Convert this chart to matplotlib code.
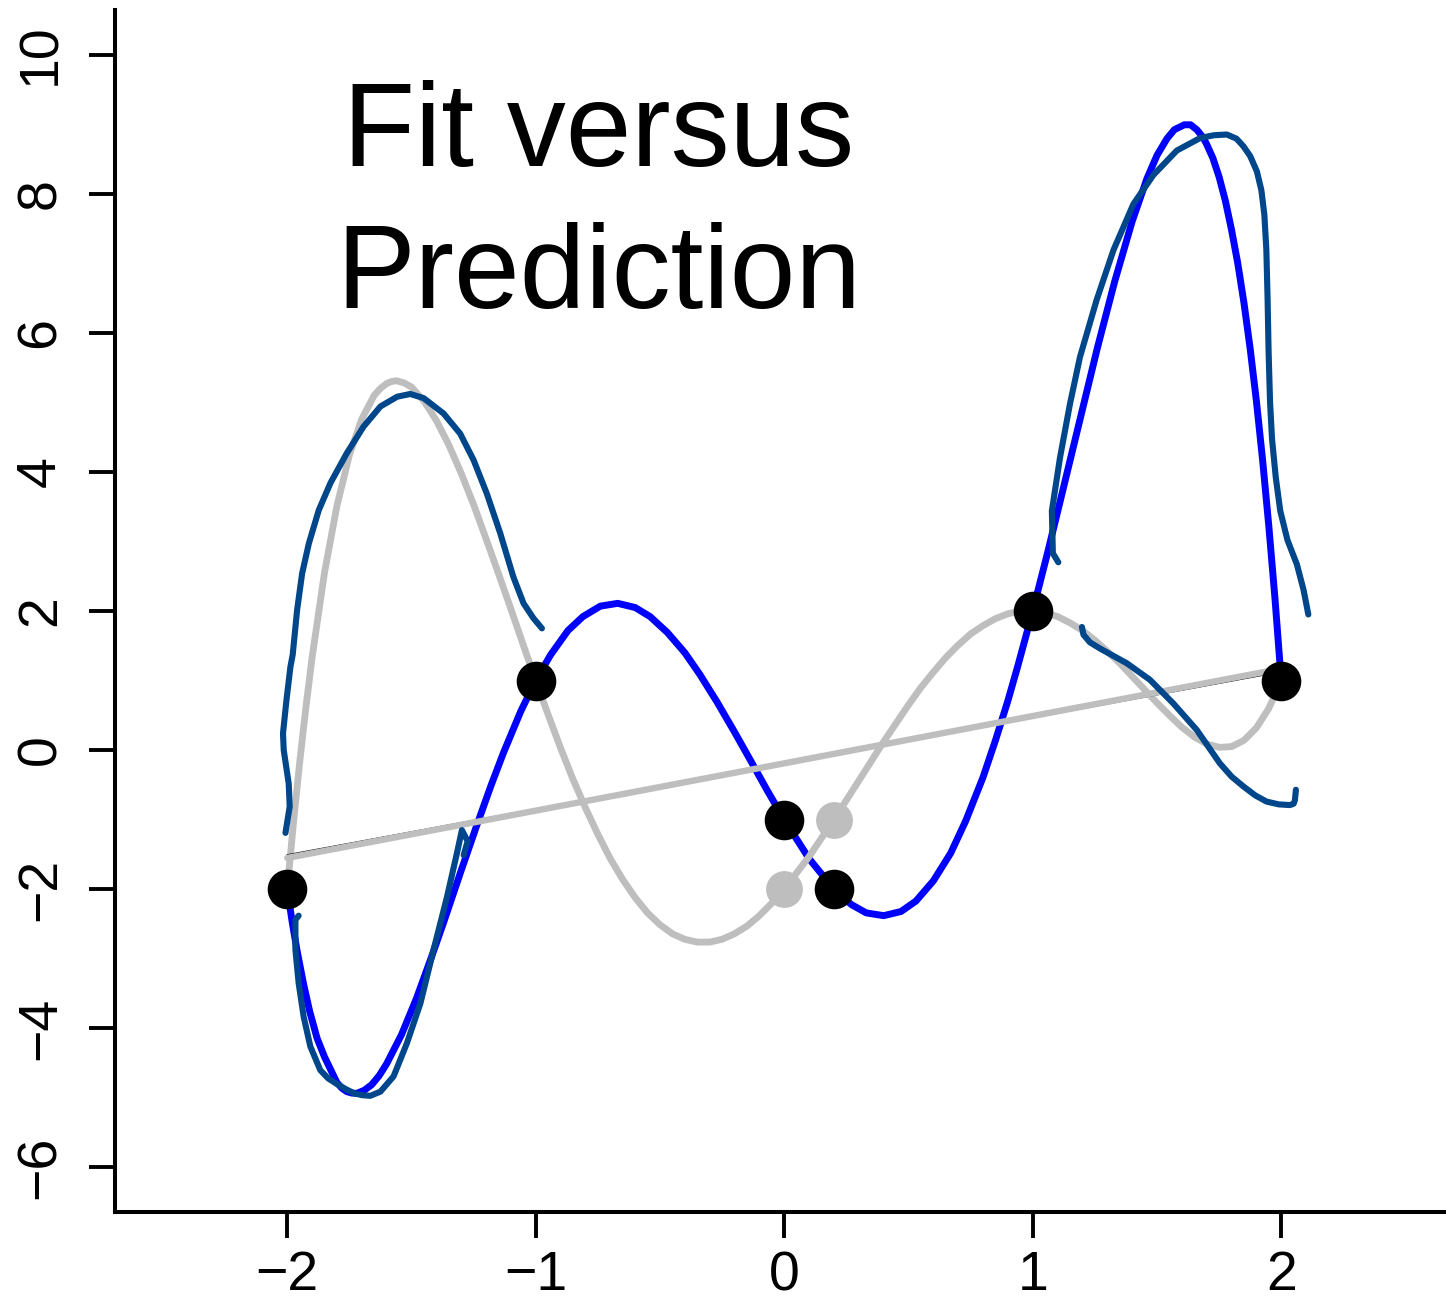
import matplotlib
matplotlib.use('Agg')
import matplotlib.pyplot as plt

plt.rcParams['font.family'] = ['Liberation Sans', 'DejaVu Sans']

# ---------------- data ----------------
obs_x = [-2, -1, 0, 0.2, 1, 2]
obs_y = [-2, 1, -1, -2, 2, 1]
new_x = [0, 0.2]
new_y = [-2, -1]

fit_x = [-2.00, -1.98, -1.96, -1.935, -1.91, -1.88, -1.85, -1.80, -1.78, -1.76,
         -1.74, -1.72, -1.69, -1.66, -1.63, -1.60, -1.54, -1.48, -1.42, -1.37,
         -1.30, -1.24, -1.18, -1.13, -1.06, -1.00, -0.94, -0.87, -0.81, -0.74,
         -0.67, -0.60, -0.54, -0.47, -0.40, -0.34, -0.27, -0.20, -0.14, -0.07,
         0.00, 0.10, 0.20, 0.27, 0.33, 0.40, 0.47, 0.53, 0.60, 0.67,
         0.73, 0.80, 0.85, 0.90, 0.94, 1.00, 1.06, 1.12, 1.19, 1.26,
         1.33, 1.40, 1.46, 1.50, 1.54, 1.57, 1.61, 1.635, 1.66, 1.685,
         1.70, 1.725, 1.75, 1.775, 1.80, 1.825, 1.85, 1.875, 1.90, 1.925,
         1.95, 1.975, 2.00]
fit_y = [-2.00, -2.47, -2.89, -3.35, -3.75, -4.14, -4.41, -4.78, -4.86, -4.91,
         -4.93, -4.935, -4.89, -4.81, -4.68, -4.51, -4.09, -3.57, -2.98, -2.47,
         -1.73, -1.11, -0.51, -0.04, 0.56, 1.00, 1.37, 1.72, 1.92, 2.07,
         2.11, 2.05, 1.92, 1.69, 1.40, 1.09, 0.69, 0.26, -0.12, -0.57,
         -1.00, -1.56, -2.00, -2.22, -2.34, -2.38, -2.32, -2.17, -1.88, -1.48,
         -1.02, -0.39, 0.14, 0.71, 1.21, 2.00, 2.84, 3.72, 4.75, 5.78,
         6.74, 7.60, 8.22, 8.55, 8.79, 8.92, 8.99, 8.99, 8.92, 8.81,
         8.71, 8.51, 8.24, 7.90, 7.48, 7.00, 6.43, 5.77, 5.02, 4.17,
         3.22, 2.17, 1.00]

pred_x = [-2.00, -1.975, -1.95, -1.925, -1.90, -1.85, -1.80, -1.75, -1.70, -1.65,
          -1.625, -1.60, -1.58, -1.56, -1.53, -1.50, -1.45, -1.40, -1.35, -1.30,
          -1.25, -1.20, -1.15, -1.10, -1.05, -1.00, -0.95, -0.90, -0.85, -0.80,
          -0.75, -0.70, -0.65, -0.60, -0.55, -0.50, -0.45, -0.40, -0.35, -0.30,
          -0.25, -0.20, -0.15, -0.10, -0.05, 0.00, 0.10, 0.20, 0.30, 0.40,
          0.50, 0.55, 0.60, 0.65, 0.70, 0.75, 0.80, 0.85, 0.90, 0.95,
          1.00, 1.05, 1.10, 1.15, 1.20, 1.25, 1.30, 1.35, 1.40, 1.45,
          1.50, 1.55, 1.60, 1.65, 1.70, 1.75, 1.80, 1.85, 1.90, 1.95,
          2.00]
pred_y = [-2.00, -1.05, -0.18, 0.61, 1.33, 2.55, 3.51, 4.24, 4.76, 5.10,
          5.20, 5.27, 5.30, 5.31, 5.28, 5.22, 5.02, 4.74, 4.39, 3.98,
          3.53, 3.04, 2.54, 2.03, 1.51, 1.00, 0.51, 0.03, -0.42, -0.83,
          -1.21, -1.56, -1.86, -2.12, -2.34, -2.51, -2.64, -2.72, -2.76, -2.76,
          -2.72, -2.64, -2.53, -2.38, -2.20, -2.00, -1.53, -1.00, -0.44, 0.12,
          0.65, 0.90, 1.12, 1.33, 1.51, 1.67, 1.79, 1.89, 1.96, 2.00,
          2.00, 1.97, 1.92, 1.83, 1.72, 1.58, 1.42, 1.25, 1.06, 0.87,
          0.68, 0.50, 0.33, 0.19, 0.09, 0.04, 0.05, 0.14, 0.32, 0.60,
          1.00]

navy1_x = [-2.007, -1.990, -1.994, -2.014, -2.017, -2.003, -1.987, -1.978, -1.960,
           -1.940, -1.913, -1.873, -1.826, -1.760, -1.693, -1.625, -1.558, -1.505,
           -1.451, -1.371, -1.304, -1.250, -1.197, -1.143, -1.090, -1.049, -1.010,
           -0.975]
navy1_y = [-1.19, -0.81, -0.48, 0.00, 0.24, 0.72, 1.20, 1.37, 2.02,
           2.54, 2.97, 3.45, 3.84, 4.27, 4.65, 4.94, 5.08, 5.12,
           5.06, 4.84, 4.55, 4.17, 3.69, 3.12, 2.49, 2.11, 1.90,
           1.75]

navy2_x = [-1.954, -1.967, -1.967, -1.954, -1.934, -1.907, -1.867, -1.835, -1.800,
           -1.766, -1.733, -1.700, -1.666, -1.625, -1.572, -1.518, -1.464, -1.411,
           -1.357, -1.317, -1.297, -1.274, -1.290]
navy2_y = [-2.38, -2.44, -2.87, -3.35, -3.83, -4.26, -4.60, -4.72, -4.80,
           -4.87, -4.93, -4.96, -4.97, -4.91, -4.69, -4.21, -3.64, -2.87,
           -2.11, -1.48, -1.15, -1.31, -1.51]

navy3_x = [1.103, 1.081, 1.077, 1.110, 1.150, 1.190, 1.257, 1.325, 1.405, 1.486,
           1.580, 1.674, 1.730, 1.781, 1.820, 1.848, 1.875, 1.902, 1.920, 1.932,
           1.940, 1.945, 1.949, 1.955, 1.963, 1.978, 1.996, 2.025, 2.063, 2.090,
           2.109]
navy3_y = [2.70, 2.83, 3.44, 4.21, 4.98, 5.65, 6.47, 7.19, 7.85, 8.27,
           8.62, 8.80, 8.84, 8.85, 8.79, 8.68, 8.54, 8.32, 8.05, 7.70,
           7.20, 6.50, 5.75, 5.00, 4.47, 3.92, 3.44, 3.02, 2.67, 2.30,
           1.95]

navy4_x = [1.198, 1.204, 1.230, 1.271, 1.378, 1.472, 1.566, 1.660, 1.753, 1.800,
           1.847, 1.895, 1.941, 1.990, 2.035, 2.050, 2.055, 2.059]
navy4_y = [1.77, 1.66, 1.55, 1.46, 1.25, 1.01, 0.67, 0.29, -0.19, -0.38,
           -0.52, -0.65, -0.74, -0.78, -0.79, -0.77, -0.72, -0.57]

line_x = [-2, 2]
fit_line_y = [-1.51, 1.13]
pred_line_y = [-1.55, 1.17]

xticks = [-2, -1, 0, 1, 2]
yticks = [-6, -4, -2, 0, 2, 4, 6, 8, 10]
title_text = "Fit versus\nPrediction"

# ---------------- figure ----------------
W, H = 1446, 1304
fig = plt.figure(figsize=(W / 100, H / 100), dpi=100)
ax = fig.add_axes([115 / W, 92 / H, 1331 / W, 1202 / H])
ax.set_xlim(-2.693, 2.663)
ax.set_ylim(-6.64, 10.64)

BLUE = '#0000FF'
GRAY = '#BEBEBE'
NAVY = '#00468B'
rnd = dict(solid_capstyle='round', solid_joinstyle='round')

ax.plot(fit_x, fit_y, color=BLUE, lw=5.0, zorder=2, **rnd)
ax.plot(pred_x, pred_y, color=GRAY, lw=4.9, zorder=3, **rnd)
ax.plot(line_x, fit_line_y, color='black', lw=1.4, zorder=4, **rnd)
ax.plot(line_x, pred_line_y, color=GRAY, lw=4.6, zorder=5, **rnd)
for sx, sy in [(navy1_x, navy1_y), (navy2_x, navy2_y), (navy3_x, navy3_y), (navy4_x, navy4_y)]:
    ax.plot(sx, sy, color=NAVY, lw=4.4, zorder=6, **rnd)
ax.plot(new_x, new_y, 'o', color=GRAY, ms=26.5, mew=0, zorder=7)
ax.plot(obs_x, obs_y, 'o', mfc='black', mec='black', ms=27, mew=1.5, zorder=8)

ax.text(-0.748, 6.36, title_text, ha='center', va='baseline', fontsize=85,
        linespacing=1.36, zorder=9)

for s in ['top', 'right']:
    ax.spines[s].set_visible(False)
for s in ['left', 'bottom']:
    ax.spines[s].set_linewidth(2.9)

ax.set_xticks(xticks)
ax.set_yticks(yticks)
ax.set_xticklabels([str(v).replace('-', '\u2212') for v in xticks])
ax.set_yticklabels([str(v).replace('-', '\u2212') for v in yticks],
                   rotation=90, va='center')
ax.tick_params(direction='out', length=18.5, width=2.8, labelsize=40)
ax.tick_params(axis='x', pad=9)
ax.tick_params(axis='y', pad=16)

fig.savefig('out.png', dpi=100)
